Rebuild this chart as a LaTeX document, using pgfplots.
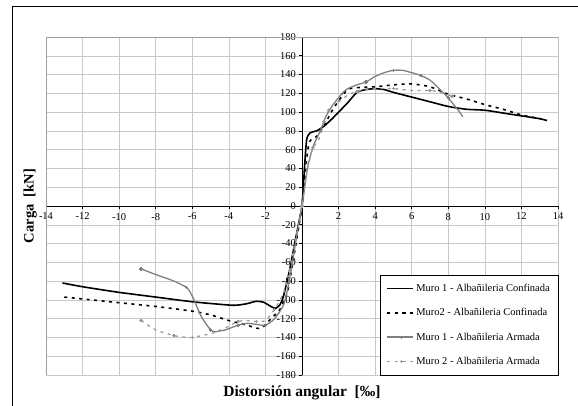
\documentclass[border=0pt]{standalone}
\usepackage{pgfplots}
\pgfplotsset{compat=1.18}
\usepackage{fontspec}
\setmainfont{Liberation Serif}

\definecolor{gridgray}{HTML}{C8C8C8}
\definecolor{boxgray}{HTML}{A0A0A0}
\definecolor{armgray}{HTML}{7F7F7F}
\definecolor{armgray2}{HTML}{9A9A9A}

\begin{document}
\begin{tikzpicture}[x=1pt,y=1pt]
\useasboundingbox (0,0) rectangle (578,406);
\draw[line width=1pt] (12,0) -- (12,399) -- (578,399);
\begin{axis}[
    at={(46pt,31pt)}, anchor=south west,
    scale only axis, width=512pt, height=338pt,
    axis lines=middle,
    axis line style={-, black, line width=0.8pt},
    xmin=-14, xmax=14, ymin=-180, ymax=180,
    xtick={-14,-12,-10,-8,-6,-4,-2,2,4,6,8,10,12,14},
    ytick={-180,-160,...,180},
    hide obscured y ticks=false,
    hide obscured x ticks=false,
    grid=major,
    major grid style={gridgray, line width=0.5pt},
    tick align=outside,
    major tick length=3.5pt,
    tick style={black, line width=0.6pt},
    ticklabel style={font=\fontsize{10.5}{11}\selectfont},
    /pgf/number format/assume math mode=true,
    yticklabel style={xshift=1pt},
    xlabel={\textbf{Distorsión angular\ \ [‰]}},
    ylabel={\textbf{Carga\ \ [kN]}},
    every axis x label/.style={at={(axis description cs:0.5,-0.02)}, anchor=north, font=\fontsize{15.5}{17}\selectfont},
    every axis y label/.style={at={(axis description cs:-0.031,0.5)}, rotate=90, anchor=center, font=\fontsize{14.5}{16}\selectfont},
    legend style={at={(axis description cs:1,0)}, anchor=south east,
        draw=black, fill=white, font=\fontsize{10.5}{12}\selectfont,
        row sep=11.5pt, inner xsep=6pt, inner ysep=7pt, cells={anchor=west}},
    legend image code/.code={\draw[#1, mark repeat=2, mark phase=2] plot coordinates {(0pt,0pt) (14pt,0pt) (26pt,0pt)};},
]
\draw[boxgray, line width=0.6pt] (rel axis cs:0,0) rectangle (rel axis cs:1,1);

\addplot[black, line width=1.6pt, smooth, tension=0.4] coordinates {
(-13.1,-82) (-12,-86) (-10,-92) (-8,-97) (-6,-102) (-4,-105.5) (-3.5,-105.5)
(-3,-104) (-2.5,-101.5) (-2.1,-102.5) (-1.7,-107) (-1.45,-109) (-1.2,-105)
(-1,-95) (-0.7,-70) (-0.4,-40) (-0.2,-20) (0,0) (0.1,30) (0.25,70) (0.45,78)
(0.8,80) (1.2,85) (1.6,92) (2,100) (2.5,110) (3,121) (3.5,124) (4,125)
(4.5,124) (5,121) (6,116) (7,111) (8,106) (9,103) (10,102) (11,99) (12,96)
(13,93) (13.4,91)
};
\addlegendentry{Muro 1 - Albañileria Confinada}

\addplot[black, line width=1.6pt, dash pattern=on 3pt off 4.5pt, smooth, tension=0.4] coordinates {
(-13,-97) (-12,-99) (-10,-103) (-8,-107) (-6,-112) (-5,-116) (-4,-122)
(-3,-127) (-2.5,-130) (-2.2,-130) (-1.8,-122) (-1.2,-110) (-0.8,-92)
(-0.5,-60) (-0.2,-25) (0,0) (0.2,40) (0.4,68) (0.8,74) (1.2,85) (1.6,100)
(2,112) (2.5,124) (3,126) (4,127) (5,129) (6,130) (7,127) (8,119) (9,114)
(10,108) (11,103) (12,97) (13,93) (13.3,92)
};
\addlegendentry{Muro2 - Albañileria Confinada}

\addplot[armgray, line width=1.3pt, smooth, tension=0.4, mark=+, mark size=1.6pt, mark repeat=3,
    mark options={solid}] coordinates {
(-8.8,-67) (-8,-73) (-7,-80) (-6.3,-87) (-6,-96) (-5.5,-118) (-5,-132)
(-4.8,-134) (-4.2,-132) (-3.5,-127) (-3,-125) (-2.5,-126) (-2,-127)
(-1.5,-120) (-1,-105) (-0.7,-80) (-0.4,-45) (-0.1,-10) (0,0) (0.3,40)
(0.6,63) (1,80) (1.3,95) (1.7,108) (2.2,120) (2.5,125) (3,129) (3.5,132)
(4,138) (4.5,142) (5,144.5) (5.5,144.5) (6,142) (6.5,139) (7,134) (7.5,125)
(8,115) (8.5,103) (8.8,95)
};
\addlegendentry{Muro 1 - Albañileria Armada}

\addplot[armgray2, line width=1.3pt, dash pattern=on 3pt off 4.5pt, smooth, tension=0.4,
    mark=+, mark size=1.6pt, mark repeat=2, mark options={solid}] coordinates {
(-8.8,-122) (-8,-132) (-7,-138) (-6.5,-139.5) (-6,-140) (-5,-136) (-4.5,-133)
(-4,-128) (-3.5,-123) (-3,-122) (-2.5,-123) (-2,-122) (-1.5,-110) (-1,-92)
(-0.7,-70) (-0.3,-30) (0,0) (0.3,40) (0.6,62) (0.9,70) (1.2,90) (1.5,105)
(2,111) (2.5,118) (3,122) (4,125) (5,125) (6,123) (7,123) (7.6,121) (8.2,117)
};
\addlegendentry{Muro 2 - Albañileria Armada}
\end{axis}
\end{tikzpicture}
\end{document}
